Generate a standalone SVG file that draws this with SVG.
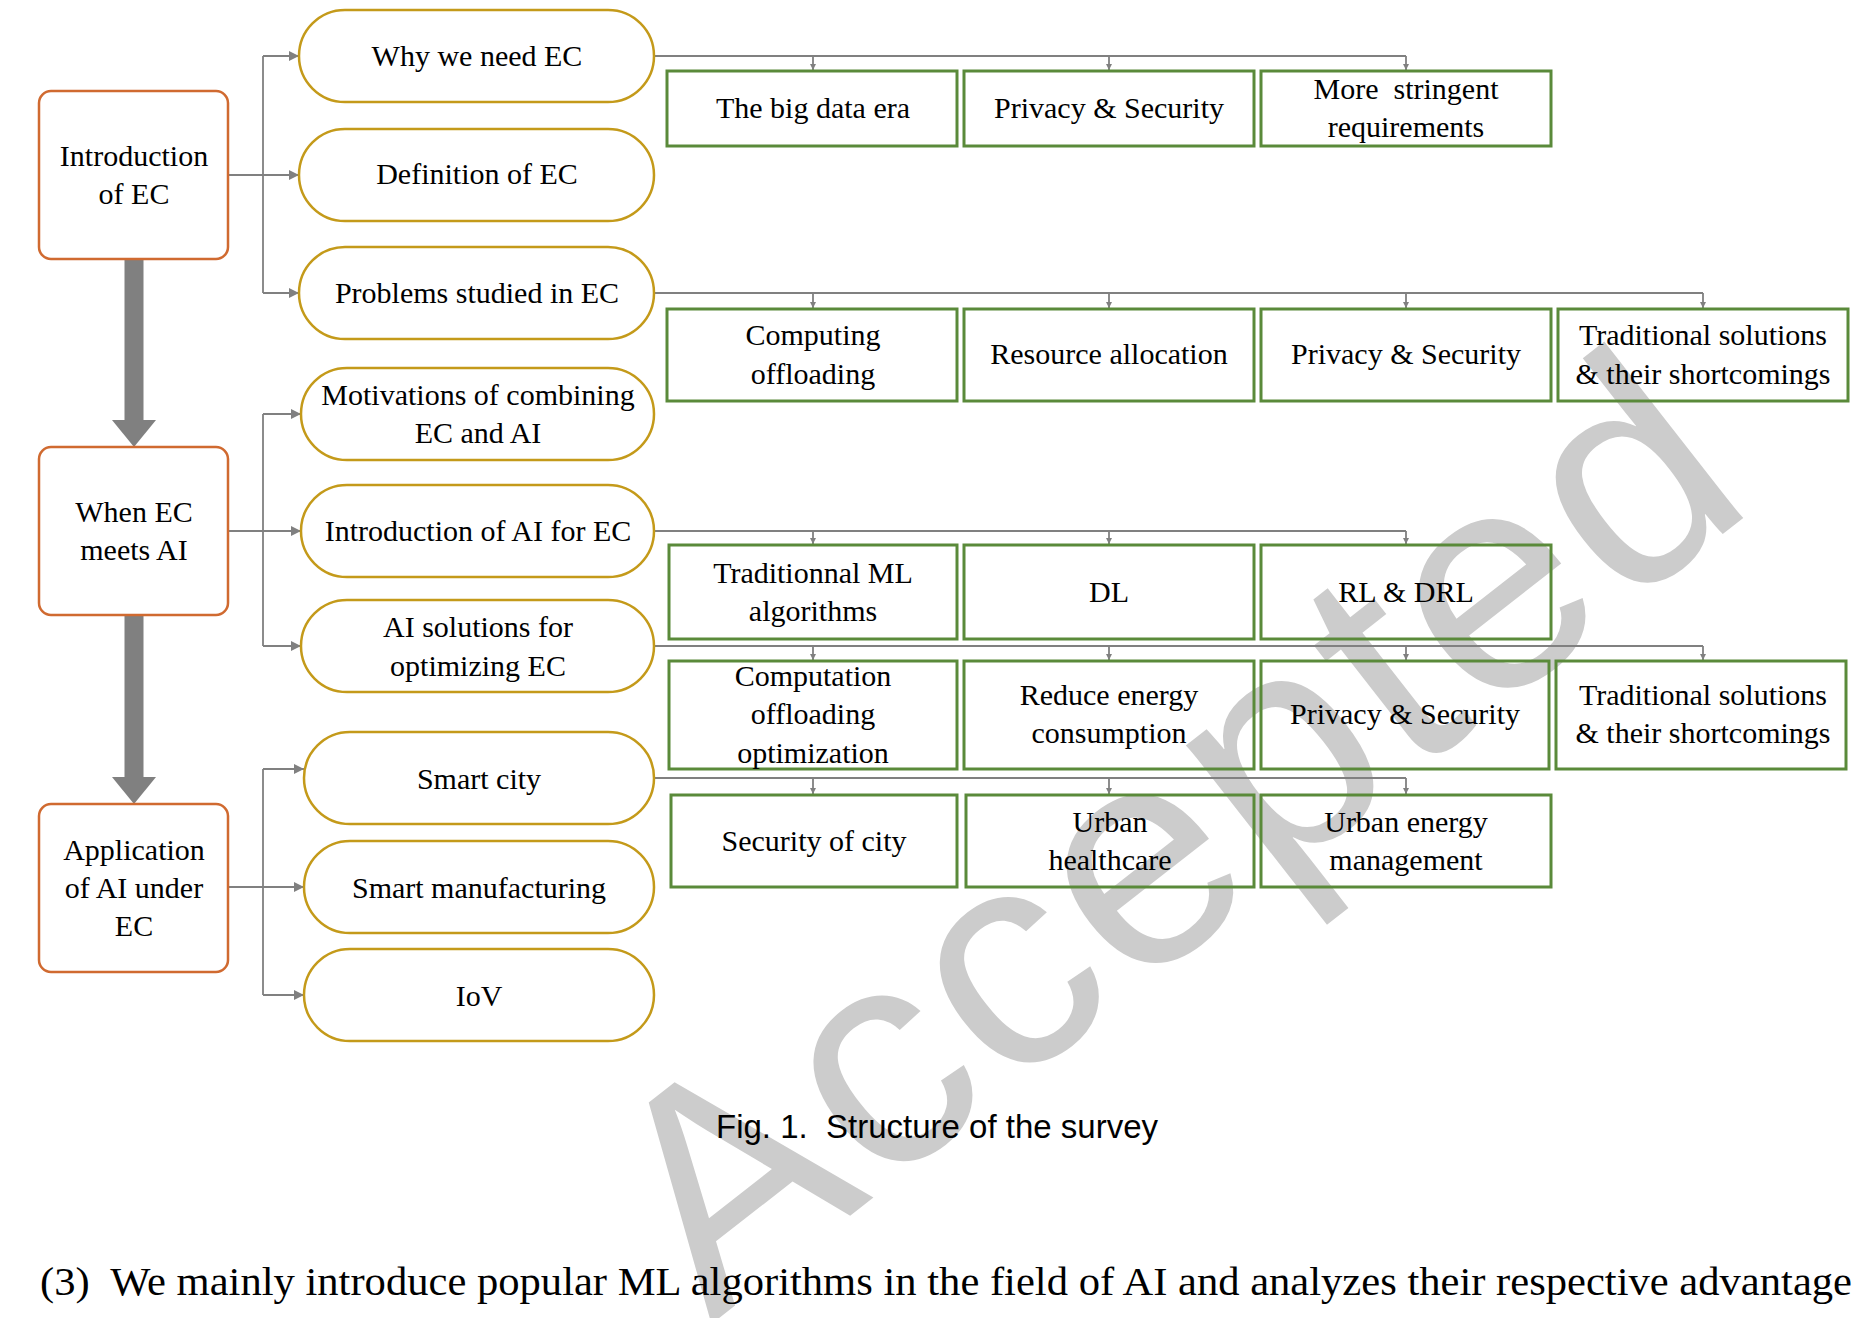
<svg xmlns="http://www.w3.org/2000/svg" width="1855" height="1318" viewBox="0 0 1855 1318">
<style>
.t{font-family:"Liberation Serif",serif;font-size:30px;fill:#000;text-anchor:middle}
.lb{fill:#fff;stroke:#d06a30;stroke-width:2.5}
.ov{fill:#fff;stroke:#c49a1a;stroke-width:2.5}
.gb{fill:none;stroke:#5a8a3a;stroke-width:3}
.c{fill:none;stroke:#808080;stroke-width:1.8}
.thick{fill:none;stroke:#808080;stroke-width:19}
</style>
<defs>
<marker id="a" viewBox="0 0 10 10" refX="10" refY="5" markerWidth="6" markerHeight="6" orient="auto" markerUnits="userSpaceOnUse"><path d="M0,0L10,5L0,10z" fill="#808080"/></marker>
<marker id="b" viewBox="0 0 10 10" refX="10" refY="5" markerWidth="10" markerHeight="10" orient="auto" markerUnits="userSpaceOnUse"><path d="M0,0L10,5L0,10z" fill="#808080"/></marker>
</defs>
<text x="1235" y="915" transform="rotate(-38 1235 915)" font-family="Liberation Sans,sans-serif" font-size="310" fill="#cccccc" text-anchor="middle" textLength="1330">Accepted</text>
<g id="connectors">
<path class="thick" d="M134,259V425"/>
<path d="M112,420H156L134,447z" fill="#808080"/>
<path class="thick" d="M134,615V782"/>
<path d="M112,777H156L134,804z" fill="#808080"/>
<path class="c" d="M228,175H263M263,56V293"/>
<path class="c" marker-end="url(#b)" d="M263,56H299"/>
<path class="c" marker-end="url(#b)" d="M263,175H299"/>
<path class="c" marker-end="url(#b)" d="M263,293H299"/>
<path class="c" d="M228,531H263M263,414V646"/>
<path class="c" marker-end="url(#b)" d="M263,414H301"/>
<path class="c" marker-end="url(#b)" d="M263,531H301"/>
<path class="c" marker-end="url(#b)" d="M263,646H301"/>
<path class="c" d="M228,887H263M263,769V995"/>
<path class="c" marker-end="url(#b)" d="M263,769H304"/>
<path class="c" marker-end="url(#b)" d="M263,887H304"/>
<path class="c" marker-end="url(#b)" d="M263,995H304"/>
<path class="c" d="M654,56H1406"/>
<path class="c" marker-end="url(#a)" d="M813,56V70"/><path class="c" marker-end="url(#a)" d="M1109,56V70"/><path class="c" marker-end="url(#a)" d="M1406,56V70"/>
<path class="c" d="M654,293H1703"/>
<path class="c" marker-end="url(#a)" d="M813,293V308"/><path class="c" marker-end="url(#a)" d="M1109,293V308"/><path class="c" marker-end="url(#a)" d="M1406,293V308"/><path class="c" marker-end="url(#a)" d="M1703,293V308"/>
<path class="c" d="M654,531H1406"/>
<path class="c" marker-end="url(#a)" d="M813,531V544"/><path class="c" marker-end="url(#a)" d="M1109,531V544"/><path class="c" marker-end="url(#a)" d="M1406,531V544"/>
<path class="c" d="M654,646H1703"/>
<path class="c" marker-end="url(#a)" d="M813,646V660"/><path class="c" marker-end="url(#a)" d="M1109,646V660"/><path class="c" marker-end="url(#a)" d="M1406,646V660"/><path class="c" marker-end="url(#a)" d="M1703,646V660"/>
<path class="c" d="M654,778H1406"/>
<path class="c" marker-end="url(#a)" d="M813,778V794"/><path class="c" marker-end="url(#a)" d="M1109,778V794"/><path class="c" marker-end="url(#a)" d="M1406,778V794"/>
</g>
<g id="n-intro"><rect class="lb" x="39" y="91" width="189" height="168" rx="12"/><text class="t" x="134" y="166">Introduction</text><text class="t" x="134" y="204">of EC</text></g>
<g id="n-when"><rect class="lb" x="39" y="447" width="189" height="168" rx="12"/><text class="t" x="134" y="522">When EC</text><text class="t" x="134" y="560">meets AI</text></g>
<g id="n-app"><rect class="lb" x="39" y="804" width="189" height="168" rx="12"/><text class="t" x="134" y="860">Application</text><text class="t" x="134" y="898">of AI under</text><text class="t" x="134" y="936">EC</text></g>
<g id="o1"><rect class="ov" x="299" y="10" width="355" height="92" rx="46"/><text class="t" x="477" y="66">Why we need EC</text></g>
<g id="o2"><rect class="ov" x="299" y="129" width="355" height="92" rx="46"/><text class="t" x="477" y="184">Definition of EC</text></g>
<g id="o3"><rect class="ov" x="299" y="247" width="355" height="92" rx="46"/><text class="t" x="477" y="303">Problems studied in EC</text></g>
<g id="o4"><rect class="ov" x="301" y="368" width="353" height="92" rx="46"/><text class="t" x="478" y="405">Motivations of combining</text><text class="t" x="478" y="443">EC and AI</text></g>
<g id="o5"><rect class="ov" x="301" y="485" width="353" height="92" rx="46"/><text class="t" x="478" y="541">Introduction of AI for EC</text></g>
<g id="o6"><rect class="ov" x="301" y="600" width="353" height="92" rx="46"/><text class="t" x="478" y="637">AI solutions for</text><text class="t" x="478" y="676">optimizing EC</text></g>
<g id="o7"><rect class="ov" x="304" y="732" width="350" height="92" rx="46"/><text class="t" x="479" y="789">Smart city</text></g>
<g id="o8"><rect class="ov" x="304" y="841" width="350" height="92" rx="46"/><text class="t" x="479" y="898">Smart manufacturing</text></g>
<g id="o9"><rect class="ov" x="304" y="949" width="350" height="92" rx="46"/><text class="t" x="479" y="1006">IoV</text></g>
<g id="g11"><rect class="gb" x="667" y="71" width="290" height="75"/><text class="t" x="813" y="118">The big data era</text></g>
<g id="g12"><rect class="gb" x="964" y="71" width="290" height="75"/><text class="t" x="1109" y="118">Privacy &amp; Security</text></g>
<g id="g13"><rect class="gb" x="1261" y="71" width="290" height="75"/><text class="t" x="1406" y="99" xml:space="preserve">More  stringent</text><text class="t" x="1406" y="137">requirements</text></g>
<g id="g21"><rect class="gb" x="667" y="309" width="290" height="92"/><text class="t" x="813" y="345">Computing</text><text class="t" x="813" y="384">offloading</text></g>
<g id="g22"><rect class="gb" x="964" y="309" width="290" height="92"/><text class="t" x="1109" y="364">Resource allocation</text></g>
<g id="g23"><rect class="gb" x="1261" y="309" width="290" height="92"/><text class="t" x="1406" y="364">Privacy &amp; Security</text></g>
<g id="g24"><rect class="gb" x="1558" y="309" width="290" height="92"/><text class="t" x="1703" y="345">Traditional solutions</text><text class="t" x="1703" y="384">&amp; their shortcomings</text></g>
<g id="g31"><rect class="gb" x="669" y="545" width="288" height="94"/><text class="t" x="813" y="583">Traditionnal ML</text><text class="t" x="813" y="621">algorithms</text></g>
<g id="g32"><rect class="gb" x="964" y="545" width="290" height="94"/><text class="t" x="1109" y="602">DL</text></g>
<g id="g33"><rect class="gb" x="1261" y="545" width="290" height="94"/><text class="t" x="1406" y="602">RL &amp; DRL</text></g>
<g id="g41"><rect class="gb" x="669" y="661" width="288" height="108"/><text class="t" x="813" y="686">Computation</text><text class="t" x="813" y="724">offloading</text><text class="t" x="813" y="763">optimization</text></g>
<g id="g42"><rect class="gb" x="964" y="661" width="290" height="108"/><text class="t" x="1109" y="705">Reduce energy</text><text class="t" x="1109" y="743">consumption</text></g>
<g id="g43"><rect class="gb" x="1261" y="661" width="288" height="108"/><text class="t" x="1405" y="724">Privacy &amp; Security</text></g>
<g id="g44"><rect class="gb" x="1556" y="661" width="290" height="108"/><text class="t" x="1703" y="705">Traditional solutions</text><text class="t" x="1703" y="743">&amp; their shortcomings</text></g>
<g id="g51"><rect class="gb" x="671" y="795" width="286" height="92"/><text class="t" x="814" y="851">Security of city</text></g>
<g id="g52"><rect class="gb" x="966" y="795" width="288" height="92"/><text class="t" x="1110" y="832">Urban</text><text class="t" x="1110" y="870">healthcare</text></g>
<g id="g53"><rect class="gb" x="1261" y="795" width="290" height="92"/><text class="t" x="1406" y="832">Urban energy</text><text class="t" x="1406" y="870">management</text></g>
<text x="937" y="1138" font-family="Liberation Sans,sans-serif" font-size="33" text-anchor="middle" xml:space="preserve">Fig. 1.  Structure of the survey</text>
<text x="40" y="1295" font-family="Liberation Serif,serif" font-size="40" textLength="1812" lengthAdjust="spacingAndGlyphs" xml:space="preserve">(3)  We mainly introduce popular ML algorithms in the field of AI and analyzes their respective advantage</text>
</svg>
